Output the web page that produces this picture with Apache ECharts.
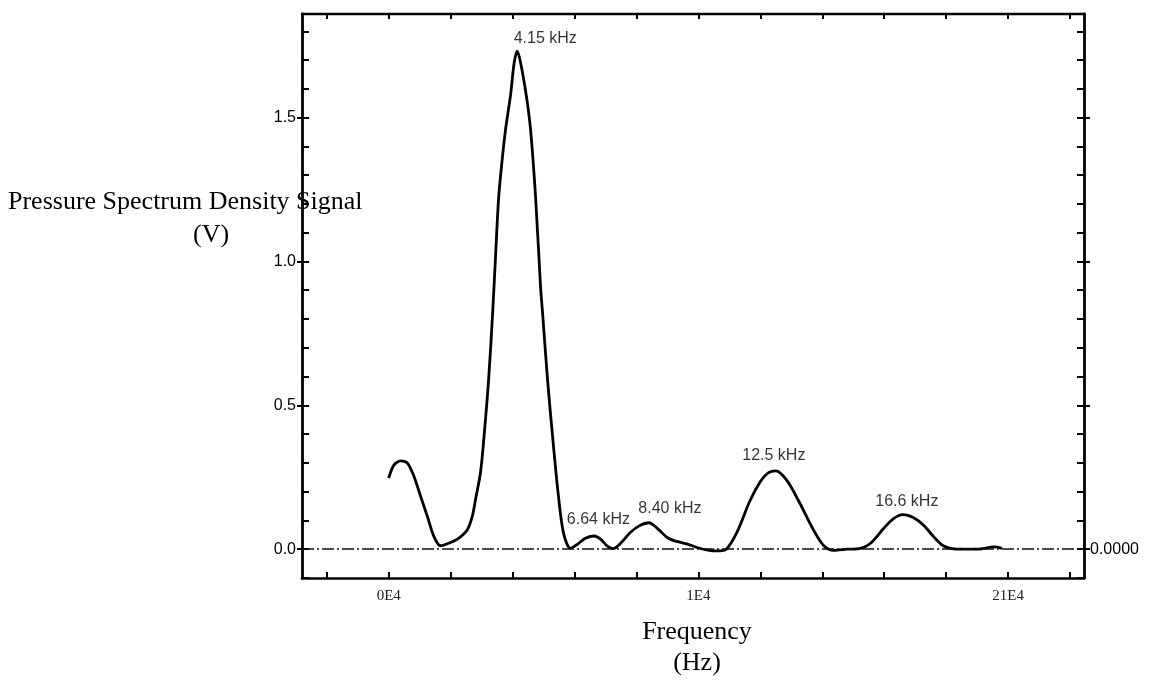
<!DOCTYPE html>
<html>
<head>
<meta charset="utf-8">
<script src="https://cdn.jsdelivr.net/npm/echarts@6/dist/echarts.min.js"></script>
<style>
  html, body { margin: 0; padding: 0; background: #ffffff; }
  #chart { width: 1150px; height: 681px; }
</style>
</head>
<body>
<div id="chart"></div>
<script>
// Pressure spectrum: frequency (Hz) and density signal (V)
const freqHz = [
  0, 171, 387, 603, 816, 1032, 1248, 1461, 1677, 1894, 2216, 2539, 2700, 2807, 2968, 3100,
  3226, 3355, 3450, 3549, 3660, 3774, 3936, 4050, 4150, 4260, 4452, 4581, 4742, 4903, 4968,
  5129, 5323, 5484, 5645, 5870, 6100, 6350, 6640, 6850, 7050, 7250, 7480, 7800, 8100, 8400,
  8700, 9000, 9300, 9650, 9950, 10300, 10600, 10900, 11250, 11650, 12000, 12250, 12500,
  12850, 13250, 13700, 14050, 14370, 14800, 15230, 15550, 15980, 16300, 16600, 16950,
  17270, 17600, 17920, 18350, 19000, 19550, 19800
];
const signalV = [
  0.247, 0.293, 0.307, 0.299, 0.253, 0.183, 0.114, 0.044, 0.012, 0.019, 0.035, 0.068, 0.115, 0.175, 0.270, 0.420,
  0.590, 0.820, 1.020, 1.220, 1.350, 1.460, 1.580, 1.690, 1.731, 1.690, 1.570, 1.457, 1.224, 0.911, 0.821,
  0.588, 0.355, 0.181, 0.056, 0.003, 0.018, 0.038, 0.046, 0.034, 0.012, 0.002, 0.020, 0.058, 0.082, 0.092,
  0.070, 0.040, 0.027, 0.018, 0.006, -0.003, -0.006, 0.000, 0.060, 0.165, 0.235, 0.265, 0.272,
  0.240, 0.165, 0.070, 0.012, -0.004, 0.000, 0.003, 0.020, 0.072, 0.106, 0.120, 0.109,
  0.083, 0.043, 0.011, 0.000, 0.000, 0.008, 0.003
];

// Annotated spectral peaks (Hz)
const peakFreqHz = [4150, 6640, 8400, 12500, 16600];

// Axis ticks and labels
const yLabelValues = [0, 0.5, 1.0, 1.5];
const yTickValues = [-0.1, 0, 0.1, 0.2, 0.3, 0.4, 0.5, 0.6, 0.7, 0.8, 0.9, 1.0, 1.1, 1.2, 1.3, 1.4, 1.5, 1.6, 1.7, 1.8];
const rightLabelValues = [0];
const xTickValues = [-2000, 0, 2000, 4000, 6000, 8000, 10000, 12000, 14000, 16000, 18000, 20000, 22000];
const xLabelValues = [0, 10000, 20000];
const xLabelTexts = ['0E4', '1E4', '21E4'];

const X_MIN = -2800, X_MAX = 22450;
const Y_MIN = -0.1, Y_MAX = 1.86;

const curve = freqHz.map((f, i) => [f, signalV[i]]);
const peaks = peakFreqHz.map(f => [f, signalV[freqHz.indexOf(f)]]);

// per-peak label placement around each annotated maximum
const peakLabelPlacement = [
  { offset: [28, 0], distance: 5 },
  { offset: [4, 0], distance: 8 },
  { offset: [21, 0], distance: 6 },
  { offset: [-2, 0], distance: 7 },
  { offset: [4, 0], distance: 5 }
];

const AXIS_COLOR = '#000';
const sans = 'Liberation Sans, Arial, sans-serif';
const serif = 'Liberation Serif, Times New Roman, serif';

function valueAxis(pos, opts) {
  return Object.assign({
    type: 'value',
    position: pos,
    min: Y_MIN,
    max: Y_MAX,
    splitLine: { show: false },
    axisLine: { show: false, onZero: false },
    axisTick: { show: false },
    axisLabel: { show: false }
  }, opts);
}

const chart = echarts.init(document.getElementById('chart'), null, { renderer: 'canvas' });

chart.setOption({
  animation: false,
  backgroundColor: '#ffffff',
  grid: { left: 302, right: 66, top: 14, bottom: 103, containLabel: false },
  xAxis: [
    {
      type: 'value',
      position: 'bottom',
      min: X_MIN,
      max: X_MAX,
      splitLine: { show: false },
      axisLine: { show: true, onZero: false, lineStyle: { color: AXIS_COLOR, width: 2.6 } },
      axisTick: { show: true, inside: true, length: 6, customValues: xTickValues, lineStyle: { color: AXIS_COLOR, width: 2 } },
      axisLabel: {
        show: true,
        customValues: xLabelValues,
        formatter: v => xLabelTexts[xLabelValues.indexOf(v)],
        margin: 11,
        fontFamily: serif,
        fontSize: 15,
        color: '#222'
      }
    },
    {
      type: 'value',
      position: 'top',
      min: X_MIN,
      max: X_MAX,
      splitLine: { show: false },
      axisLine: { show: true, onZero: false, lineStyle: { color: AXIS_COLOR, width: 2.4 } },
      axisTick: { show: true, inside: true, length: 5, customValues: xTickValues, lineStyle: { color: AXIS_COLOR, width: 2 } },
      axisLabel: { show: false }
    }
  ],
  yAxis: [
    valueAxis('left', {
      axisLine: { show: true, onZero: false, lineStyle: { color: AXIS_COLOR, width: 2.8 } },
      axisTick: { show: true, inside: true, length: 7, customValues: yTickValues, lineStyle: { color: AXIS_COLOR, width: 2 } },
      axisLabel: {
        show: true,
        customValues: yLabelValues,
        formatter: v => v.toFixed(1),
        margin: 6,
        fontFamily: sans,
        fontSize: 16,
        color: '#000'
      }
    }),
    valueAxis('left', {
      axisTick: { show: true, inside: false, length: 5, customValues: yLabelValues, lineStyle: { color: AXIS_COLOR, width: 2 } }
    }),
    valueAxis('right', {
      axisLine: { show: true, onZero: false, lineStyle: { color: AXIS_COLOR, width: 2.8 } },
      axisTick: { show: true, inside: true, length: 7, customValues: yTickValues, lineStyle: { color: AXIS_COLOR, width: 2 } },
      axisLabel: {
        show: true,
        customValues: rightLabelValues,
        formatter: v => v.toFixed(4),
        margin: 6,
        fontFamily: sans,
        fontSize: 16,
        color: '#000'
      }
    }),
    valueAxis('right', {
      axisTick: { show: true, inside: false, length: 6, customValues: yLabelValues, lineStyle: { color: AXIS_COLOR, width: 2 } }
    })
  ],
  series: [
    {
      type: 'line',
      xAxisIndex: 0,
      yAxisIndex: 0,
      data: curve,
      smooth: 0.3,
      symbol: 'none',
      lineStyle: { color: '#000', width: 2.8 },
      z: 3,
      markLine: {
        silent: true,
        symbol: 'none',
        label: { show: false },
        lineStyle: { color: '#111', width: 1.6, type: [12, 3, 2, 3] },
        data: [{ yAxis: 0 }]
      }
    },
    {
      type: 'scatter',
      xAxisIndex: 0,
      yAxisIndex: 0,
      symbolSize: 0,
      silent: true,
      data: peaks.map((p, i) => ({
        value: p,
        label: {
          show: true,
          position: 'top',
          offset: peakLabelPlacement[i].offset,
          distance: peakLabelPlacement[i].distance
        }
      })),
      label: {
        show: true,
        formatter: p => (p.value[0] / 1000).toPrecision(3) + ' kHz',
        fontFamily: sans,
        fontSize: 16,
        color: '#000'
      },
      z: 4
    }
  ],
  graphic: [
    { type: 'text', left: 8, top: 189, style: { text: 'Pressure Spectrum Density Signal', font: '26px ' + serif, fill: '#000' } },
    { type: 'text', left: 193, top: 222, style: { text: '(V)', font: '26px ' + serif, fill: '#000' } },
    { type: 'text', x: 697, y: 632, style: { text: 'Frequency', font: '26px ' + serif, fill: '#000', textAlign: 'center', textVerticalAlign: 'middle' } },
    { type: 'text', x: 697, y: 663, style: { text: '(Hz)', font: '26px ' + serif, fill: '#000', textAlign: 'center', textVerticalAlign: 'middle' } }
  ]
});
</script>
</body>
</html>
